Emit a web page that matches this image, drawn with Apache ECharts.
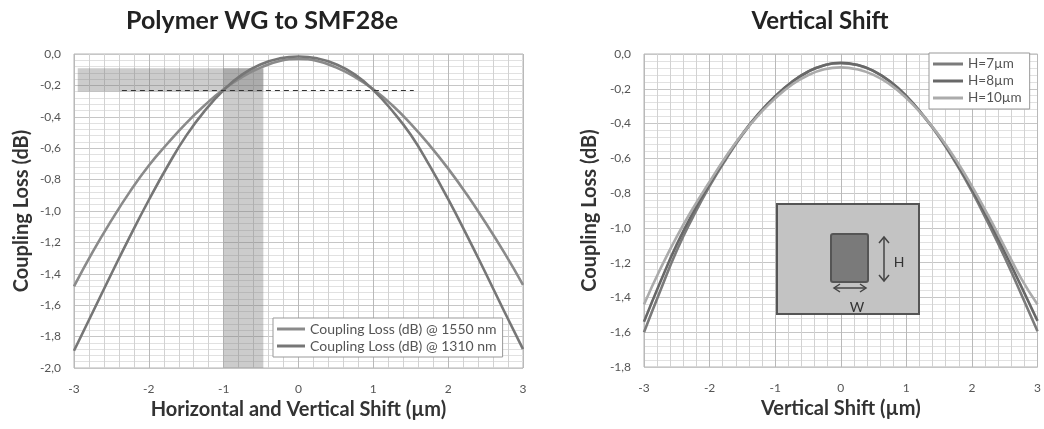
<!DOCTYPE html>
<html>
<head>
<meta charset="utf-8">
<script src="https://cdn.jsdelivr.net/npm/echarts@6/dist/echarts.min.js"></script>
<style>
html,body{margin:0;padding:0;background:#fff;}
#chart{width:1044px;height:429px;}
</style>
</head>
<body>
<div id="chart"></div>
<script>
// ---- data ----
const shiftX = [-3,-2.75,-2.5,-2.25,-2,-1.75,-1.5,-1.25,-1,-0.75,-0.5,-0.25,0,0.25,0.5,0.75,1,1.25,1.5,1.75,2,2.25,2.5,2.75,3];
const loss1550 = [-1.48,-1.26,-1.06,-0.875,-0.71,-0.57,-0.44,-0.325,-0.225,-0.145,-0.085,-0.045,-0.032,-0.045,-0.085,-0.145,-0.225,-0.325,-0.445,-0.58,-0.73,-0.895,-1.075,-1.265,-1.47];
const loss1310 = [-1.89,-1.645,-1.40,-1.16,-0.93,-0.715,-0.52,-0.36,-0.23,-0.13,-0.065,-0.028,-0.016,-0.028,-0.065,-0.13,-0.23,-0.36,-0.515,-0.71,-0.925,-1.155,-1.395,-1.64,-1.88];
const lossH7  = [-1.60,-1.36,-1.13,-0.935,-0.76,-0.605,-0.465,-0.345,-0.245,-0.163,-0.102,-0.065,-0.053,-0.063,-0.098,-0.158,-0.243,-0.352,-0.477,-0.625,-0.79,-0.975,-1.17,-1.38,-1.595];
const lossH8  = [-1.54,-1.31,-1.095,-0.91,-0.745,-0.595,-0.46,-0.342,-0.243,-0.162,-0.102,-0.064,-0.05,-0.062,-0.097,-0.157,-0.242,-0.35,-0.472,-0.615,-0.775,-0.95,-1.14,-1.335,-1.535];
const lossH10 = [-1.44,-1.235,-1.05,-0.885,-0.735,-0.59,-0.46,-0.35,-0.255,-0.178,-0.122,-0.088,-0.077,-0.088,-0.12,-0.175,-0.253,-0.352,-0.47,-0.605,-0.76,-0.93,-1.11,-1.29,-1.44];
const leftNames = ['Coupling Loss (dB) @ 1550 nm','Coupling Loss (dB) @ 1310 nm'];
const rightNames = ['H=7µm','H=8µm','H=10µm'];
// tolerance bands (data units): [xFrom, yFrom, xTo, yTo]
const hBand = [-2.95,-0.09,-0.47,-0.24];
const vBand = [-1.0,-0.09,-0.47,-2.0];
const dashLine = [[-2.36,-0.23],[1.54,-0.23]];

const pairs = (ys) => shiftX.map((x,i)=>[x,ys[i]]);
const FONT = 'Lato, "Liberation Sans", sans-serif';
const yFmt = v => v.toFixed(1).replace('.', ',');

function xAxisCfg(gi, name, gap){
  return {
    type:'value', gridIndex:gi, min:-3, max:3, interval:1,
    name:name, nameLocation:'middle', nameGap:gap,
    nameTextStyle:{fontFamily:FONT, fontSize:20, fontWeight:'bold', color:'#333'},
    axisLine:{show:false}, axisTick:{show:false},
    axisLabel:{fontFamily:FONT, fontSize:12, color:'#555', margin:15},
    splitLine:{show:true, lineStyle:{color:'#b9b9b9', width:1}},
    minorTick:{show:false, splitNumber:5},
    minorSplitLine:{show:true, lineStyle:{color:'#d2d2d2', width:1}}
  };
}
function yAxisCfg(gi, min, gap){
  return {
    type:'value', gridIndex:gi, min:min, max:0, interval:0.2,
    name:'Coupling Loss (dB)', nameLocation:'middle', nameGap:gap,
    nameTextStyle:{fontFamily:FONT, fontSize:20, fontWeight:'bold', color:'#333'},
    axisLine:{show:false}, axisTick:{show:false},
    axisLabel:{fontFamily:FONT, fontSize:12, color:'#555', margin:13, formatter:yFmt},
    splitLine:{show:true, lineStyle:{color:'#c6c6c6', width:1}},
    minorTick:{show:false, splitNumber:5},
    minorSplitLine:{show:true, lineStyle:{color:'#e1e1e1', width:1}}
  };
}
function lineSeries(name, xi, ys, color, extra){
  return Object.assign({
    type:'line', name:name, xAxisIndex:xi, yAxisIndex:xi,
    data:pairs(ys), smooth:true, symbol:'none',
    lineStyle:{color:color, width:2.6}, itemStyle:{color:color}
  }, extra||{});
}
const Z = 100;
const chart = echarts.init(document.getElementById('chart'), null, {renderer:'canvas'});
chart.setOption({
  animation:false,
  backgroundColor:'#fff',
  grid:[
    {left:74, top:54, width:449, height:314, show:true, borderColor:'#b5b5b5', borderWidth:1},
    {left:644, top:54, width:398, height:313, show:true, borderColor:'#b5b5b5', borderWidth:1}
  ],
  xAxis:[xAxisCfg(0,'Horizontal and Vertical Shift (µm)',30), xAxisCfg(1,'Vertical Shift (µm)',30)],
  yAxis:[yAxisCfg(0,-2,42), yAxisCfg(1,-1.8,44)],
  legend:[
    {data:leftNames, orient:'vertical', left:273, top:318, padding:[4,6,4,4], itemGap:3,
     icon:'rect', itemWidth:28, itemHeight:3, backgroundColor:'#fff', borderColor:'#999', borderWidth:1,
     textStyle:{fontFamily:FONT, fontSize:14, color:'#555'}},
    {data:rightNames, orient:'vertical', left:929, top:53, padding:[4,8,4,4], itemGap:3,
     icon:'rect', itemWidth:30, itemHeight:3, backgroundColor:'#fff', borderColor:'#999', borderWidth:1,
     textStyle:{fontFamily:FONT, fontSize:13.5, color:'#555'}}
  ],
  series:[
    lineSeries(leftNames[0],0,loss1550,'#8a8a8a',{
      markArea:{silent:true, itemStyle:{color:'rgba(120,120,120,0.38)'},
        data:[
          [{coord:[hBand[0],hBand[1]]},{coord:[hBand[2],hBand[3]]}],
          [{coord:[vBand[0],vBand[1]]},{coord:[vBand[2],vBand[3]]}]
        ]}
    }),
    lineSeries(leftNames[1],0,loss1310,'#767676',{
      markLine:{silent:true, symbol:'none', label:{show:false},
        lineStyle:{color:'#333', type:[5,4], width:1},
        data:[[{coord:dashLine[0]},{coord:dashLine[1]}]]}
    }),
    lineSeries(rightNames[0],1,lossH7,'#7b7b7b'),
    lineSeries(rightNames[1],1,lossH8,'#686868'),
    lineSeries(rightNames[2],1,lossH10,'#ababab')
  ],
  graphic:[
    {type:'text', x:262, y:21, z:Z, style:{text:'Polymer WG to SMF28e', align:'center', verticalAlign:'middle',
      font:'bold 25px '+FONT, fill:'#222'}},
    {type:'text', x:820, y:21, z:Z, style:{text:'Vertical Shift', align:'center', verticalAlign:'middle',
      font:'bold 24px '+FONT, fill:'#222'}},
    // waveguide cross-section inset
    {type:'rect', z:Z, shape:{x:777,y:204,width:142,height:110}, style:{fill:'#c3c3c3', stroke:'#555', lineWidth:2}},
    {type:'rect', z:Z+1, shape:{x:831,y:234,width:37,height:48,r:2}, style:{fill:'#7a7a7a', stroke:'#555', lineWidth:2}},
    {type:'line', z:Z+1, shape:{x1:884,y1:237,x2:884,y2:281}, style:{stroke:'#444', lineWidth:1.5}},
    {type:'polyline', z:Z+1, shape:{points:[[879,243],[884,237],[889,243]]}, style:{stroke:'#444', lineWidth:1.5, fill:null}},
    {type:'polyline', z:Z+1, shape:{points:[[879,275],[884,281],[889,275]]}, style:{stroke:'#444', lineWidth:1.5, fill:null}},
    {type:'text', z:Z+1, x:899, y:262, style:{text:'H', font:'14px '+FONT, fill:'#333', align:'center', verticalAlign:'middle'}},
    {type:'line', z:Z+1, shape:{x1:834,y1:288,x2:866,y2:288}, style:{stroke:'#444', lineWidth:1.5}},
    {type:'polyline', z:Z+1, shape:{points:[[840,284],[834,288],[840,292]]}, style:{stroke:'#444', lineWidth:1.5, fill:null}},
    {type:'polyline', z:Z+1, shape:{points:[[860,284],[866,288],[860,292]]}, style:{stroke:'#444', lineWidth:1.5, fill:null}},
    {type:'text', z:Z+1, x:857, y:307, style:{text:'W', font:'14px '+FONT, fill:'#333', align:'center', verticalAlign:'middle'}}
  ]
});
</script>
</body>
</html>
